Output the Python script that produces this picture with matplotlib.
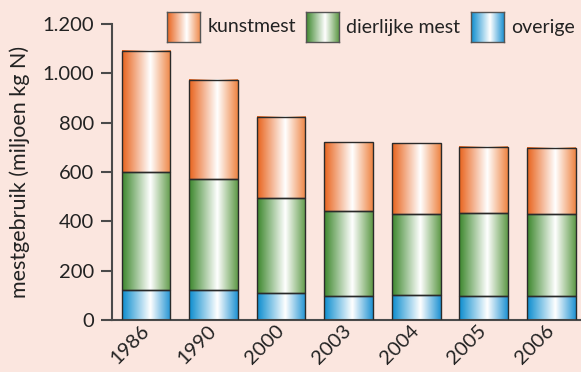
"""Stacked bar chart: mestgebruik per jaar (kunstmest, dierlijke mest, overige)."""

import matplotlib

matplotlib.use("Agg")
import matplotlib.pyplot as plt
import numpy as np
from matplotlib.colors import LinearSegmentedColormap
from matplotlib.ticker import FuncFormatter
from matplotlib.transforms import ScaledTranslation

years = ["1986", "1990", "2000", "2003", "2004", "2005", "2006"]
overige = [121, 120, 108, 97, 100, 97, 96]
dierlijke_top = [598, 570, 493, 442, 430, 435, 428]
totaal = [1090, 972, 822, 720, 717, 703, 696]

dierlijke = [d - o for d, o in zip(dierlijke_top, overige)]
kunstmest = [t - d for t, d in zip(totaal, dierlijke_top)]

series_names = ["kunstmest", "dierlijke mest", "overige"]

BG = "#fbe6df"
EDGE = "#2a2a2a"
AXIS = "#4a4a4a"

plt.rcParams["font.family"] = ["Lato", "DejaVu Sans"]


def gradient_cmap(left, right):
    return LinearSegmentedColormap.from_list(
        "g", [(0.0, left), (0.58, "#ffffff"), (1.0, right)]
    )


cmaps = {
    "overige": gradient_cmap("#0a8cce", "#1f92d2"),
    "dierlijke mest": gradient_cmap("#3b862b", "#5f9a48"),
    "kunstmest": gradient_cmap("#e8621b", "#ee8443"),
}

grad = np.linspace(0, 1, 256).reshape(1, -1)

fig = plt.figure(figsize=(5.81, 3.72), dpi=100, facecolor=BG)
ax = fig.add_axes([112 / 581, 1 - 320 / 372, 1 - 112 / 581, (320 - 24) / 372])
ax.set_facecolor(BG)

x = np.arange(len(years))
width = 0.72
bottom = np.zeros(len(years))
for name, vals in [("overige", overige), ("dierlijke mest", dierlijke), ("kunstmest", kunstmest)]:
    bars = ax.bar(x, vals, width, bottom=bottom, facecolor="none",
                  edgecolor=EDGE, linewidth=1.0, zorder=3)
    for b in bars:
        x0, y0 = b.get_x(), b.get_y()
        ax.imshow(grad, cmap=cmaps[name], aspect="auto", zorder=2,
                  extent=(x0, x0 + b.get_width(), y0, y0 + b.get_height()))
    bottom += np.array(vals)

ax.set_xlim(-0.504, 6.44)
ax.set_ylim(0, 1200)
ax.set_yticks(range(0, 1201, 200))
ax.yaxis.set_major_formatter(FuncFormatter(lambda v, p: f"{int(v):,}".replace(",", ".")))
ax.set_xticks(x)
ax.set_xticklabels(years, rotation=45, ha="right", va="center",
                   rotation_mode="anchor", fontsize=14.5)
for lbl in ax.get_xticklabels():
    lbl.set_transform(lbl.get_transform() + ScaledTranslation(14 / 100, -16 / 100, fig.dpi_scale_trans))
ax.tick_params(axis="x", length=0, pad=6, colors="#222222")
ax.tick_params(axis="y", length=8, width=1.5, color=AXIS, pad=5, labelsize=14.5,
               labelcolor="#222222")

for side in ["top", "right"]:
    ax.spines[side].set_visible(False)
for side in ["left", "bottom"]:
    ax.spines[side].set_color(AXIS)
    ax.spines[side].set_linewidth(1.5)

ax.set_ylabel("mestgebruik (miljoen kg N)", fontsize=15.5, color="#222222", labelpad=1)
ax.yaxis.set_label_coords(-82 / 469, 0.5)

# legend built by hand: gradient swatches + labels
legend_items = [("kunstmest", 167, 208), ("dierlijke mest", 306, 346), ("overige", 471, 511)]
for name, px, tx in legend_items:
    lax = fig.add_axes([px / 581, 1 - 42 / 372, 33 / 581, 30 / 372])
    lax.imshow(grad, cmap=cmaps[name], aspect="auto", extent=(0, 1, 0, 1))
    lax.set_xticks([])
    lax.set_yticks([])
    for s in lax.spines.values():
        s.set_color("#555555")
        s.set_linewidth(1.0)
    fig.text(tx / 581, 1 - 27 / 372, name, fontsize=14, color="#222222",
             ha="left", va="center")

fig.savefig("out.png", dpi=100, facecolor=BG)
